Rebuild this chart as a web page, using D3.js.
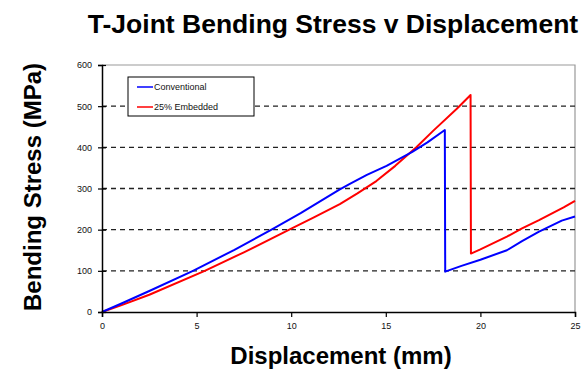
<!DOCTYPE html>
<html lang="en">
<head>
    <meta charset="UTF-8">
    <title>T-Joint Bending Stress v Displacement</title>
    <script src="https://d3js.org/d3.v7.min.js"></script>
    <style>
        body { margin: 0; background: #fff; }
        svg { display: block; font-family: "Liberation Sans", Arial, sans-serif; }
    </style>
</head>
<body>
    <div id="chart"></div>

    <script>
        // Data
        var seriesNames = ["Conventional", "25% Embedded"];
        var seriesColors = ["#0000ff", "#ff0000"];

        var convDisp   = [0, 1, 2.5, 4.81, 7, 8.96, 10.5, 12.57, 13.1, 14, 15.04, 16.4, 17.2, 18.12, 18.14, 19, 20, 21.4, 22.2, 23.1, 24.3, 25];
        var convStress = [0, 20, 51, 100, 151, 200, 240, 298, 311, 333, 355, 389, 412, 442, 98, 112, 127, 150, 172, 195, 222, 232];

        var embDisp   = [0, 1, 2.5, 5.43, 7.5, 9.9, 11.2, 12.57, 13.5, 14.5, 15.5, 16.63, 17.5, 18.74, 19.48, 19.5, 20, 21.4, 22.2, 23.1, 24.4, 25];
        var embStress = [0, 16, 42, 100, 145, 200, 230, 262, 288, 318, 355, 401, 440, 493, 527, 142, 152, 183, 203, 223, 254, 270];

        var xTicks = [0, 5, 10, 15, 20, 25];
        var yTicks = [0, 100, 200, 300, 400, 500, 600];
        var gridValues = [100, 200, 300, 400, 500];

        var width = 587, height = 371;
        var plotLeft = 102, plotRight = 575, plotTop = 65, plotBottom = 312;

        var svg = d3.select("#chart").append("svg")
            .attr("width", width)
            .attr("height", height);

        var x = d3.scaleLinear().domain([0, 25]).range([plotLeft, plotRight]);
        var y = d3.scaleLinear().domain([0, 600]).range([plotBottom, plotTop]);

        // frame (top / right in grey)
        svg.append("path")
            .attr("d", "M" + plotLeft + "," + plotTop + "H" + plotRight + "V" + plotBottom)
            .attr("fill", "none")
            .attr("stroke", "#999")
            .attr("stroke-width", 1.2);

        // dashed gridlines
        svg.append("g")
            .selectAll("line")
            .data(gridValues)
            .enter().append("line")
            .attr("x1", plotLeft)
            .attr("x2", plotRight)
            .attr("y1", function(d) { return y(d); })
            .attr("y2", function(d) { return y(d); })
            .attr("stroke", "#222")
            .attr("stroke-width", 1.3)
            .attr("stroke-dasharray", "5,4");

        // series lines
        var series = [
            { name: seriesNames[0], color: seriesColors[0], xs: convDisp, ys: convStress },
            { name: seriesNames[1], color: seriesColors[1], xs: embDisp, ys: embStress }
        ];

        var line = d3.line()
            .x(function(d) { return x(d[0]); })
            .y(function(d) { return y(d[1]); });

        svg.append("g")
            .selectAll("path")
            .data(series.slice().reverse())
            .enter().append("path")
            .attr("d", function(s) { return line(d3.zip(s.xs, s.ys)); })
            .attr("fill", "none")
            .attr("stroke", function(s) { return s.color; })
            .attr("stroke-width", 2)
            .attr("stroke-linejoin", "round");

        // axes
        var yAxis = svg.append("g")
            .attr("transform", "translate(" + plotLeft + ",0)")
            .call(d3.axisLeft(y).tickValues(yTicks).tickSize(4).tickPadding(6));
        yAxis.selectAll(".tick line").attr("x1", 4);

        var xAxis = svg.append("g")
            .attr("transform", "translate(0," + plotBottom + ")")
            .call(d3.axisBottom(x).tickValues(xTicks).tickSize(5).tickPadding(6));

        [xAxis, yAxis].forEach(function(a) {
            a.select(".domain").attr("stroke", "#000").attr("stroke-width", 1.5);
            a.selectAll(".tick line").attr("stroke", "#000").attr("stroke-width", 1.2);
            a.selectAll(".tick text")
                .attr("fill", "#111")
                .style("font-size", "9px")
                .style("font-family", "'Liberation Sans', Arial, sans-serif");
        });

        // titles
        svg.append("text")
            .attr("x", 333)
            .attr("y", 33)
            .attr("text-anchor", "middle")
            .style("font-size", "26.5px")
            .style("font-weight", "bold")
            .text("T-Joint Bending Stress v Displacement");

        svg.append("text")
            .attr("x", 341)
            .attr("y", 364)
            .attr("text-anchor", "middle")
            .style("font-size", "24px")
            .style("font-weight", "bold")
            .text("Displacement (mm)");

        svg.append("text")
            .attr("transform", "translate(41,187) rotate(-90)")
            .attr("text-anchor", "middle")
            .style("font-size", "24px")
            .style("font-weight", "bold")
            .text("Bending Stress (MPa)");

        // legend
        var legend = svg.append("g").attr("transform", "translate(128,77)");
        legend.append("rect")
            .attr("width", 126)
            .attr("height", 39)
            .attr("fill", "#fff")
            .attr("stroke", "#000")
            .attr("stroke-width", 1);

        var item = legend.selectAll("g.item")
            .data(series)
            .enter().append("g")
            .attr("class", "item")
            .attr("transform", function(d, i) { return "translate(0," + (10 + i * 20) + ")"; });

        item.append("line")
            .attr("x1", 9).attr("x2", 25)
            .attr("stroke", function(d) { return d.color; })
            .attr("stroke-width", 1.5);

        item.append("text")
            .attr("x", 26)
            .attr("dy", "0.35em")
            .style("font-size", "9px")
            .attr("fill", "#111")
            .text(function(d) { return d.name; });
    </script>
</body>
</html>
